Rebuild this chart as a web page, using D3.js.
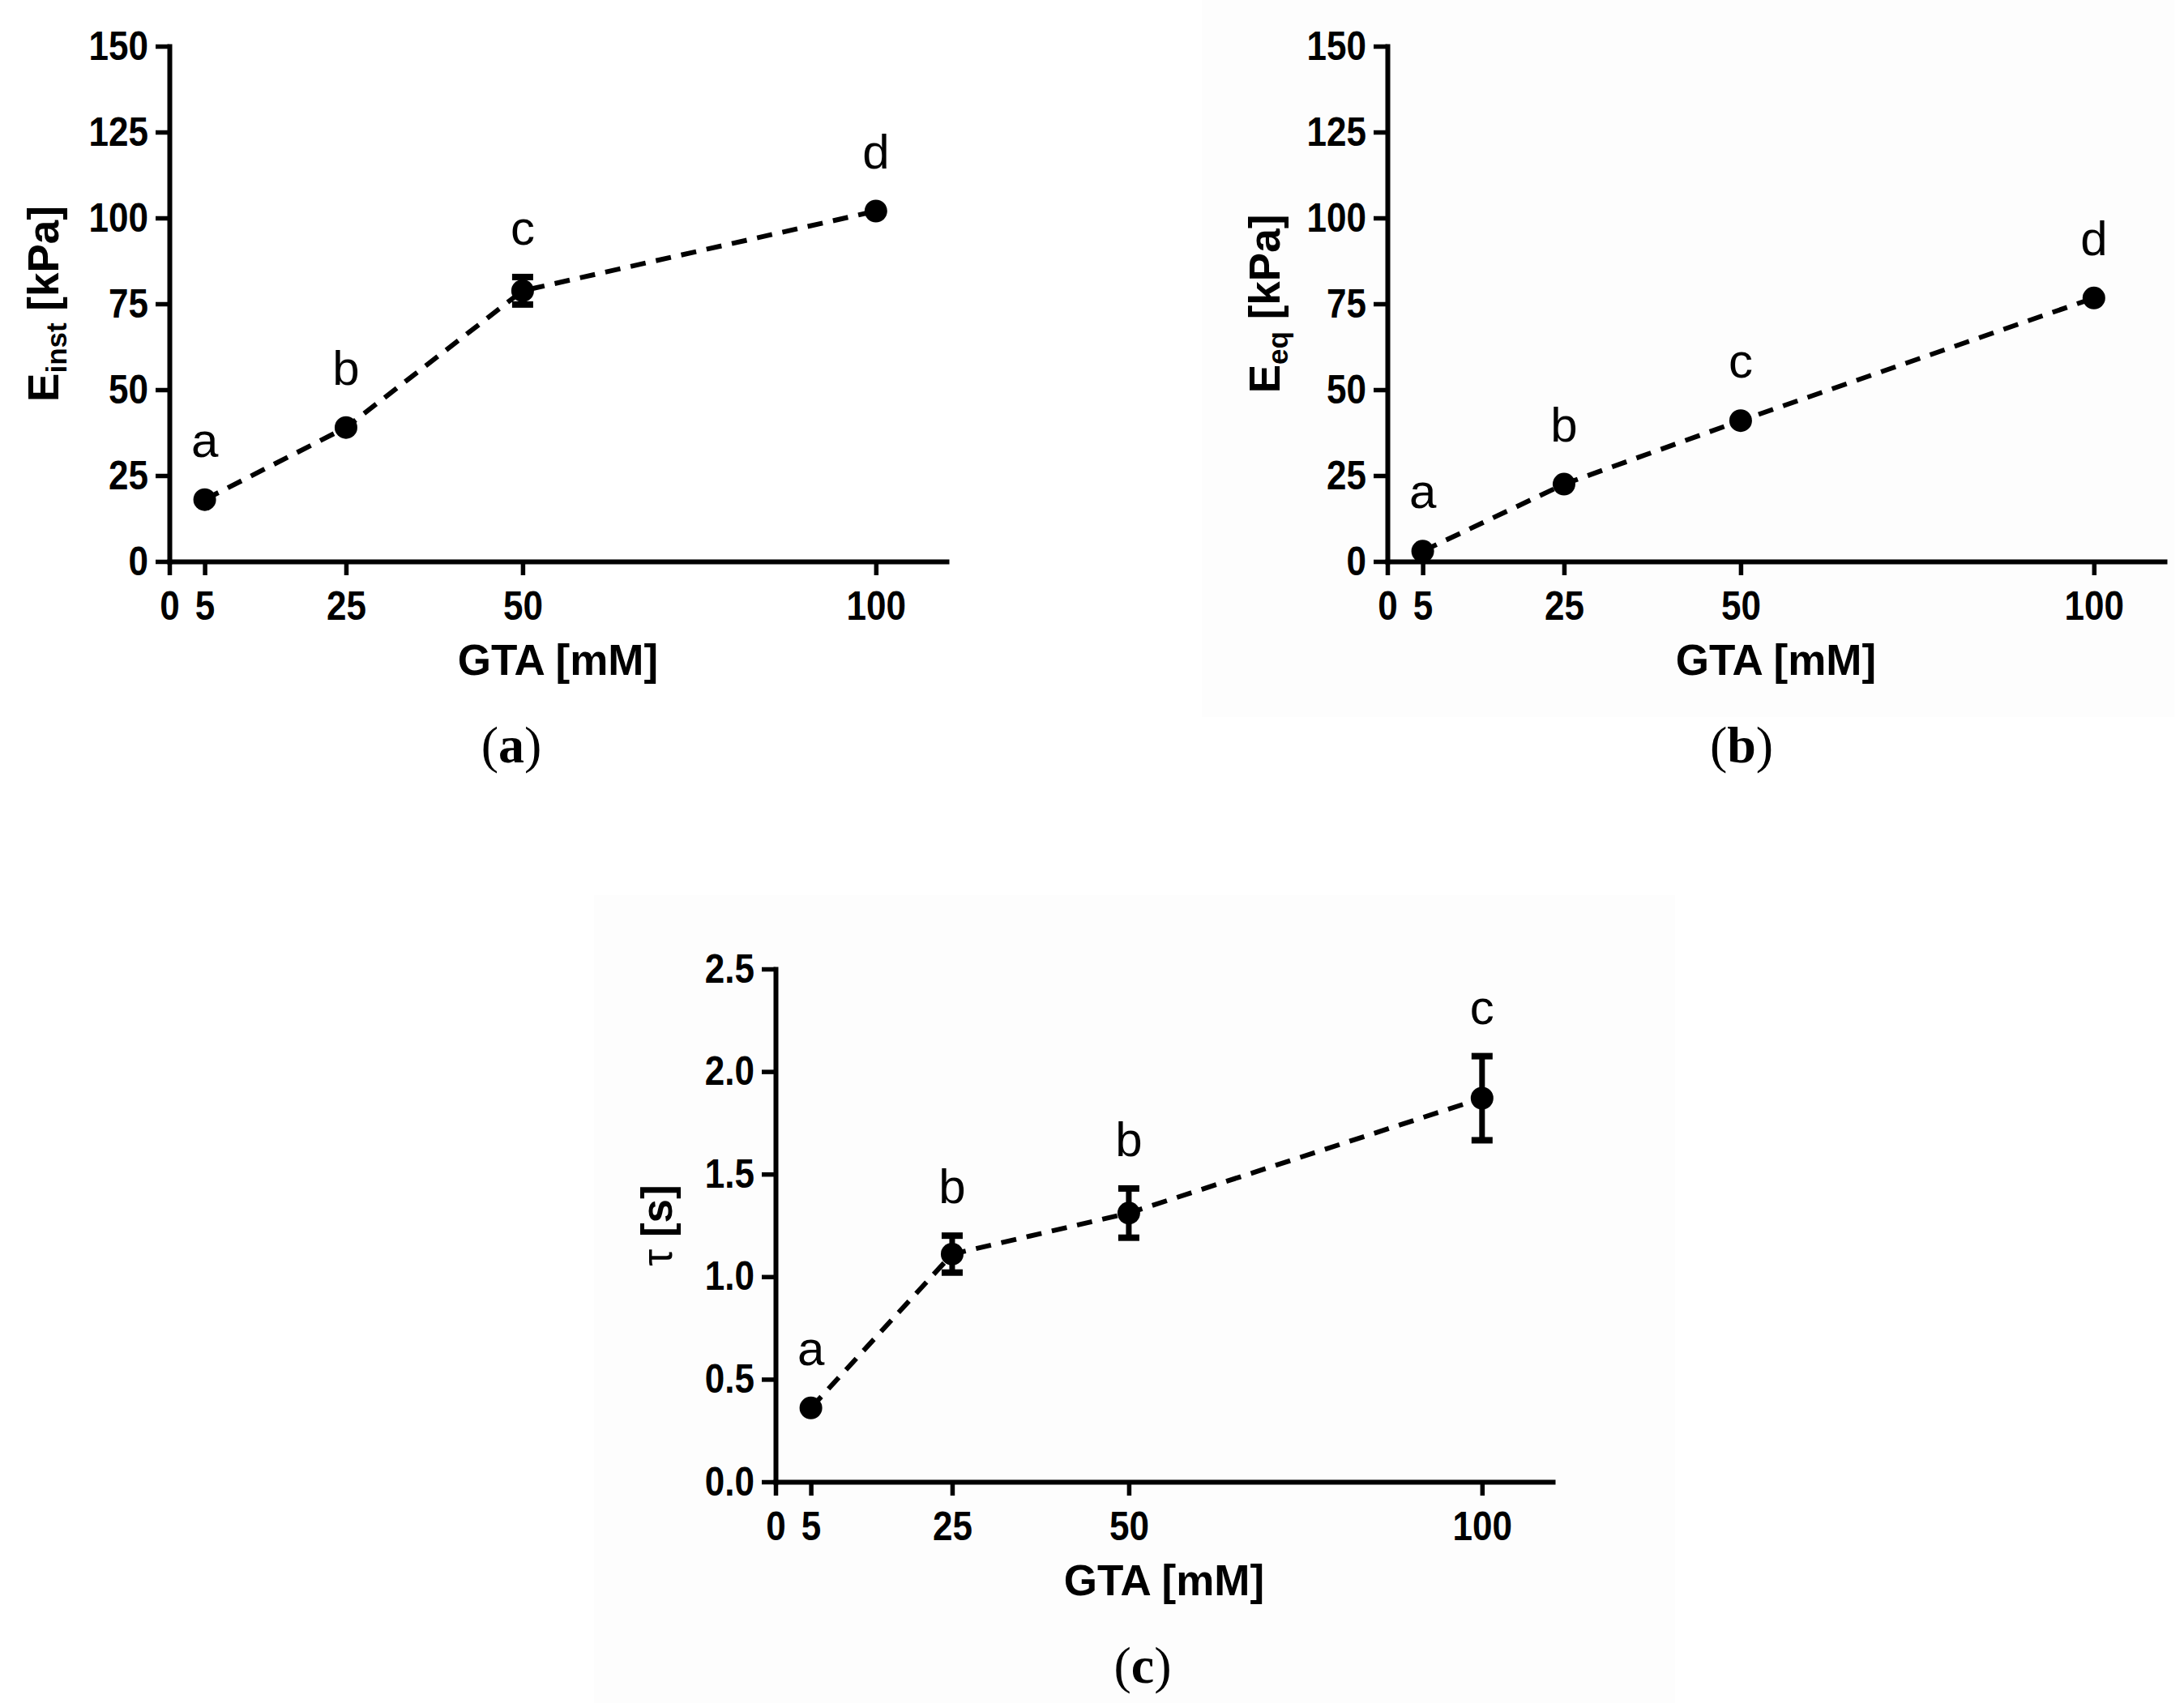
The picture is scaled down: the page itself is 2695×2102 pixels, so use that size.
<!DOCTYPE html>
<html>
<head>
<meta charset="utf-8">
<script src="https://cdn.jsdelivr.net/npm/d3@7/dist/d3.min.js"></script>
<style>
  html, body { margin: 0; padding: 0; background: #ffffff; }
  svg { display: block; }
</style>
</head>
<body>
<svg id="chart" width="2695" height="2102"></svg>
<script>
// ---------- DATA ----------
const gta = [5, 25, 50, 100];
const xTicks = [0, 5, 25, 50, 100];

const eInst = [18, 39, 78.8, 102];
const eInstErr = [1, 1, 4, 1];
const eInstLetters = ["a", "b", "c", "d"];

const eEq = [3, 22.5, 41, 76.7];
const eEqErr = [1, 1, 1, 1];
const eEqLetters = ["a", "b", "c", "d"];

const tau = [0.36, 1.11, 1.31, 1.87];
const tauErr = [0.02, 0.09, 0.12, 0.205];
const tauLetters = ["a", "b", "b", "c"];

const kPaTicks = [0, 25, 50, 75, 100, 125, 150];
const tauTicks = [0, 0.5, 1.0, 1.5, 2.0, 2.5];

// ---------- LAYOUT ----------
const svg = d3.select("#chart");
const SANS = "'Liberation Sans', Arial, Helvetica, sans-serif";
const SERIF = "'Liberation Serif', 'Times New Roman', serif";
const R = 14;

// very faint background patches from the source scan
svg.append("rect").attr("x", 1483).attr("y", 0).attr("width", 1200).attr("height", 885).attr("fill", "#fdfdfd");
svg.append("rect").attr("x", 733).attr("y", 1105).attr("width", 1334).attr("height", 997).attr("fill", "#fdfdfd");

const panels = [
  { values: eInst, errs: eInstErr, letters: eInstLetters, yTicks: kPaTicks, yMax: 150, fmt: d3.format("d"),
    axisX: 209, top: 57, zero: 693, titleOff: 137, ySub: "inst", yMain: "E", yRest: " [kPa]", tag: "a", tagX: 631 },
  { values: eEq, errs: eEqErr, letters: eEqLetters, yTicks: kPaTicks, yMax: 150, fmt: d3.format("d"),
    axisX: 1712, top: 57, zero: 693, titleOff: 133, ySub: "eq", yMain: "E", yRest: " [kPa]", tag: "b", tagX: 2149 },
  { values: tau, errs: tauErr, letters: tauLetters, yTicks: tauTicks, yMax: 2.5, fmt: d3.format(".1f"),
    axisX: 957, top: 1196, zero: 1829, titleOff: 128, ySub: null, yMain: "τ", yRest: " [s]", tag: "c", tagX: 1410 }
];

panels.forEach(p => {
  const g = svg.append("g");
  const x = d3.scaleLinear().domain([0, 110]).range([p.axisX, p.axisX + 959]);
  const y = d3.scaleLinear().domain([0, p.yMax]).range([p.zero, p.top]);

  // axes
  const xAxis = d3.axisBottom(x).tickValues(xTicks).tickSize(17).tickSizeOuter(0).tickPadding(20).tickFormat(d3.format("d"));
  const yAxis = d3.axisLeft(y).tickValues(p.yTicks).tickSize(17).tickSizeOuter(0).tickPadding(9).tickFormat(p.fmt);

  const gx = g.append("g").attr("transform", `translate(0,${p.zero})`).call(xAxis);
  const gy = g.append("g").attr("transform", `translate(${p.axisX},0)`).call(yAxis);

  [gx, gy].forEach(ax => {
    ax.select(".domain").attr("stroke", "#000").attr("stroke-width", 6).attr("stroke-linecap", "square");
    ax.selectAll(".tick line").attr("stroke", "#000").attr("stroke-width", 5.5);
    ax.selectAll(".tick text")
      .attr("fill", "#000")
      .style("font-family", SANS)
      .style("font-weight", "bold")
      .style("font-size", "50px");
  });
  gx.selectAll(".tick text").attr("transform", "scale(0.88,1)");
  gy.selectAll(".tick text").attr("x", -26 / 0.88).attr("transform", "scale(0.88,1)");

  // dashed connecting line
  const pts = gta.map((gv, i) => [x(gv), y(p.values[i])]);
  g.append("path")
    .attr("d", d3.line()(pts))
    .attr("fill", "none")
    .attr("stroke", "#000")
    .attr("stroke-width", 6)
    .attr("stroke-dasharray", "19,13");

  // error bars (hidden behind marker when smaller than it, as in the original)
  gta.forEach((gv, i) => {
    const cx = x(gv);
    const yHi = y(p.values[i] + p.errs[i]);
    const yLo = y(p.values[i] - p.errs[i]);
    if (yLo - yHi < 2 * R - 4) return;
    g.append("line").attr("x1", cx).attr("x2", cx).attr("y1", yHi).attr("y2", yLo)
      .attr("stroke", "#000").attr("stroke-width", 7);
    [yHi, yLo].forEach(yy => {
      g.append("line").attr("x1", cx - 13).attr("x2", cx + 13).attr("y1", yy).attr("y2", yy)
        .attr("stroke", "#000").attr("stroke-width", 8);
    });
  });

  // markers
  g.selectAll("circle.pt").data(gta).enter().append("circle")
    .attr("class", "pt")
    .attr("cx", d => x(d))
    .attr("cy", (d, i) => y(p.values[i]))
    .attr("r", R)
    .attr("fill", "#000");

  // significance letters
  gta.forEach((gv, i) => {
    const base = Math.min(y(p.values[i]) - 53, y(p.values[i] + p.errs[i]) - 40);
    g.append("text")
      .attr("x", x(gv)).attr("y", base)
      .attr("text-anchor", "middle")
      .style("font-family", SANS).style("font-size", "60px").attr("fill", "#000")
      .text(p.letters[i]);
  });

  // x title
  const xMid = (p.axisX + p.axisX + 959) / 2;
  g.append("text")
    .attr("x", xMid).attr("y", p.zero + 140)
    .attr("text-anchor", "middle")
    .style("font-family", SANS).style("font-weight", "bold").style("font-size", "53px")
    .attr("fill", "#000")
    .text("GTA [mM]");

  // y title (rotated)
  const yMid = (p.top + p.zero) / 2;
  const yt = g.append("text")
    .attr("transform", `translate(${p.axisX - p.titleOff},${yMid}) rotate(-90)`)
    .attr("text-anchor", "middle")
    .style("font-family", SANS).style("font-weight", "bold").style("font-size", "53px")
    .attr("fill", "#000");
  if (p.ySub) {
    yt.append("tspan").text(p.yMain);
    yt.append("tspan").attr("dy", 10).style("font-size", "35px").text(p.ySub);
    yt.append("tspan").attr("dy", -10).text(p.yRest);
  } else {
    yt.append("tspan").style("font-weight", "normal").text(p.yMain);
    yt.append("tspan").text(p.yRest);
  }

  // panel tag
  const tg = g.append("text")
    .attr("x", p.tagX).attr("y", p.zero + 248)
    .attr("text-anchor", "middle")
    .style("font-family", SERIF).style("font-size", "64px").attr("fill", "#000");
  tg.append("tspan").text("(");
  tg.append("tspan").style("font-weight", "bold").text(p.tag);
  tg.append("tspan").text(")");
});
</script>
</body>
</html>
